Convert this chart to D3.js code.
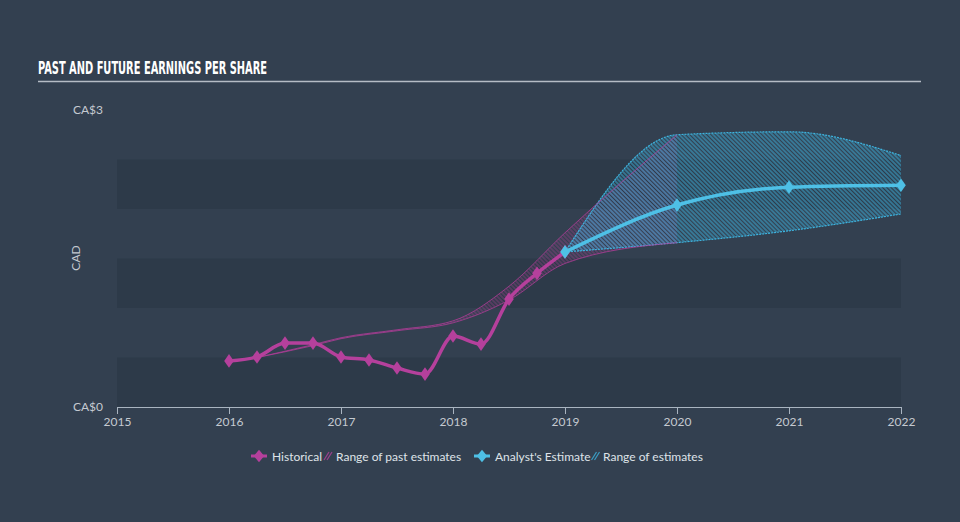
<!DOCTYPE html>
<html><head><meta charset="utf-8">
<script src="https://cdn.jsdelivr.net/npm/d3@7"></script>
<style>body{margin:0;background:#334050;}svg{display:block;}</style>
</head><body><svg id="c" width="960" height="522"></svg>
<script>
const histX=[2016,2016.25,2016.5,2016.75,2017,2017.25,2017.5,2017.75,2018,2018.25,2018.5,2018.75,2019];
const histY=[0.465,0.505,0.646,0.646,0.505,0.475,0.394,0.333,0.717,0.636,1.09,1.35,1.566];
const estX=[2019,2020,2021,2022];
const estY=[1.566,2.04,2.22,2.24];
const estHigh=[1.566,2.75,2.78,2.54];
const estLow=[1.566,1.66,1.78,1.95];
const pastX=[2016.25,2016.75,2017,2017.5,2018,2018.5,2019,2020];
const pastHigh=[0.5,0.63,0.70,0.78,0.87,1.22,1.76,2.75];
const pastLow=[0.5,0.62,0.69,0.77,0.85,1.08,1.45,1.66];
const xTicks=[2015,2016,2017,2018,2019,2020,2021,2022];
const yTicks=[0,3];
const bands=[[0,0.5],[1,1.5],[2,2.5]];

const svg=d3.select("#c");
const W=960,H=522;
svg.append("rect").attr("width",W).attr("height",H).attr("fill","#334050");
const x=d3.scaleLinear().domain([2015,2022]).range([117,901]);
const y=d3.scaleLinear().domain([0,3]).range([407,110]);

const defs=svg.append("defs");
function hatch(id,color,sw,op){
  const p=defs.append("pattern").attr("id",id).attr("patternUnits","userSpaceOnUse")
    .attr("width",3).attr("height",3).attr("patternTransform","rotate(-45)");
  p.append("line").attr("x1",1).attr("y1",0).attr("x2",1).attr("y2",3)
    .attr("stroke",color).attr("stroke-width",sw).attr("stroke-opacity",op);
}
hatch("hc","#3db3de",1.3,0.75);
hatch("hm","#c040a0",1.0,0.55);

// title
svg.append("text").attr("x",38).attr("y",74).text("PAST AND FUTURE EARNINGS PER SHARE")
  .attr("font-family","'Liberation Sans Narrow','DejaVu Sans Condensed',sans-serif")
  .attr("font-weight","bold").attr("font-size",18).attr("fill","#ffffff")
  .attr("textLength",229).attr("lengthAdjust","spacingAndGlyphs");
svg.append("line").attr("x1",38).attr("x2",921).attr("y1",81.5).attr("y2",81.5)
  .attr("stroke","#b5bcc5").attr("stroke-width",1.5);

// bands
svg.append("g").selectAll("rect").data(bands).join("rect")
  .attr("x",x(2015)).attr("width",x(2022)-x(2015))
  .attr("y",d=>y(d[1])).attr("height",d=>y(d[0])-y(d[1]))
  .attr("fill","#2d3a49");

// y axis
const ya=svg.append("g").attr("transform",`translate(${x(2015)},0)`)
  .call(d3.axisLeft(y).tickValues(yTicks).tickSize(0).tickPadding(14).tickFormat(d=>"CA$"+d));
ya.select(".domain").remove();
ya.selectAll("text").attr("fill","#c5cad1").attr("font-size",12).attr("font-family","Lato,'Open Sans',sans-serif");
svg.append("text").attr("transform","translate(80,258) rotate(-90)").attr("text-anchor","middle")
  .text("CAD").attr("fill","#c5cad1").attr("font-size",12).attr("font-family","Lato,'Open Sans',sans-serif");

// x axis
const xa=svg.append("g").attr("transform","translate(0,407)")
  .call(d3.axisBottom(x).tickValues(xTicks).tickSize(7).tickSizeOuter(7).tickPadding(3).tickFormat(d3.format("d")));
xa.select(".domain").attr("stroke","#a9b4c0");
xa.selectAll(".tick line").attr("stroke","#a9b4c0");
xa.selectAll("text").attr("fill","#c5cad1").attr("font-size",12).attr("font-family","Lato,'Open Sans',sans-serif");

const curve=d3.curveMonotoneX;
// past range (underneath)
const pIdx=d3.range(pastX.length);
const areaP=d3.area().x(i=>x(pastX[i])).y0(i=>y(pastLow[i])).y1(i=>y(pastHigh[i])).curve(curve);
svg.append("path").attr("d",areaP(pIdx)).attr("fill","url(#hm)");
// estimate range
const estIdx=d3.range(estX.length);
const areaE=d3.area().x(i=>x(estX[i])).y0(i=>y(estLow[i])).y1(i=>y(estHigh[i])).curve(curve);
svg.append("path").attr("d",areaE(estIdx)).attr("fill","url(#hc)");
["h","l"].forEach(k=>{
  const arr=k==="h"?estHigh:estLow;
  svg.append("path").attr("d",d3.line().x(i=>x(estX[i])).y(i=>y(arr[i])).curve(curve)(estIdx))
    .attr("fill","none").attr("stroke","#3db3de").attr("stroke-width",1.2).attr("stroke-dasharray","2,1");
});
["h","l"].forEach(k=>{
  const arr=k==="h"?pastHigh:pastLow;
  svg.append("path").attr("d",d3.line().x(i=>x(pastX[i])).y(i=>y(arr[i])).curve(curve)(pIdx))
    .attr("fill","none").attr("stroke","#b83c9c").attr("stroke-width",0.9).attr("stroke-opacity",0.8);
});

// historical line
const hIdx=d3.range(histX.length);
svg.append("path").attr("d",d3.line().x(i=>x(histX[i])).y(i=>y(histY[i])).curve(curve)(hIdx))
  .attr("fill","none").attr("stroke","#b5409c").attr("stroke-width",3.5).attr("stroke-linejoin","round");
const diamond=d3.symbol().type(d3.symbolDiamond).size(60);
svg.append("g").selectAll("path").data(hIdx).join("path")
  .attr("transform",i=>`translate(${x(histX[i])},${y(histY[i])}) scale(1.15,0.95)`)
  .attr("d",diamond).attr("fill","#b5409c");

// estimate line
svg.append("path").attr("d",d3.line().x(i=>x(estX[i])).y(i=>y(estY[i])).curve(curve)(estIdx))
  .attr("fill","none").attr("stroke","#4ec0e6").attr("stroke-width",3.5).attr("stroke-linejoin","round");
svg.append("g").selectAll("path").data(estIdx).join("path")
  .attr("transform",i=>`translate(${x(estX[i])},${y(estY[i])}) scale(1.15,0.95)`)
  .attr("d",diamond).attr("fill","#4ec0e6");

// legend
const lg=svg.append("g").attr("font-family","Lato,'Open Sans',sans-serif").attr("font-size",12).attr("fill","#dfe3e8");
function legItem(cx,color,label,tx){
  lg.append("line").attr("x1",cx-8).attr("x2",cx+8).attr("y1",456).attr("y2",456).attr("stroke",color).attr("stroke-width",3);
  lg.append("path").attr("transform",`translate(${cx},456) scale(1.3,0.9)`).attr("d",d3.symbol().type(d3.symbolDiamond).size(55)).attr("fill",color);
  lg.append("text").attr("x",tx).attr("y",460.5).text(label);
}
function legHatch(cx,color,label,tx){
  [-2,1].forEach(o=>{
    lg.append("line").attr("x1",cx+o-2.5).attr("y1",460).attr("x2",cx+o+2.5).attr("y2",452)
      .attr("stroke",color).attr("stroke-width",1.2).attr("stroke-opacity",0.8);
  });
  lg.append("text").attr("x",tx).attr("y",460.5).text(label);
}
legItem(259,"#b5409c","Historical",272);
legHatch(328.5,"#b5409c","Range of past estimates",336);
legItem(482,"#4ec0e6","Analyst's Estimate",495);
legHatch(596,"#3db3de","Range of estimates",603);
</script></body></html>
